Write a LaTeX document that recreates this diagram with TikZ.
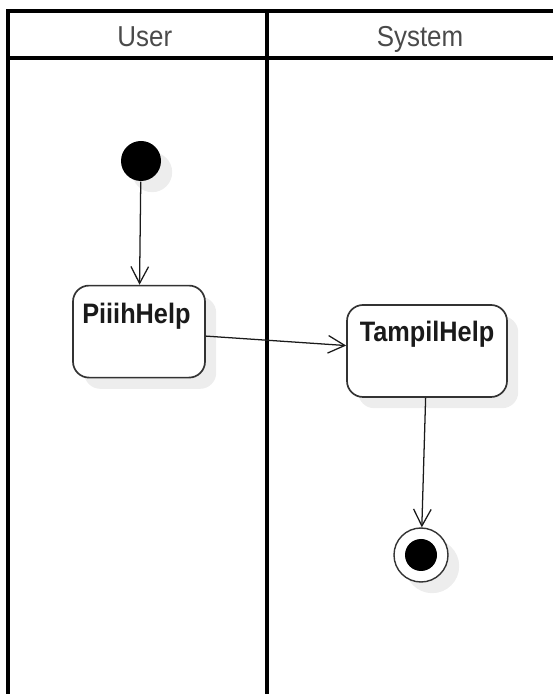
\documentclass[tikz,border=0pt]{standalone}
\usepackage{fontspec}
\setmainfont{Liberation Sans}
\newfontfamily\narrowsans{Liberation Sans}[FakeStretch=0.9]
\usetikzlibrary{arrows.meta,shadows}
\definecolor{ink}{HTML}{1A1A1A}
\definecolor{frame}{HTML}{333333}
\definecolor{lanetext}{HTML}{4A4A4A}
\definecolor{shade}{HTML}{EDEDED}

\begin{document}
\begin{tikzpicture}[
    line width=0.9pt, >={Straight Barb[length=4.2mm,width=4.4mm]},
    color=ink,
    lane/.style={draw=black, line width=2.5pt},
    lanehead/.style={font=\narrowsans\fontsize{20.5}{24}\selectfont, text=lanetext, anchor=base},
    soft shadow/.style={drop shadow={shadow xshift=0.28cm, shadow yshift=-0.28cm,
                        fill=shade, opacity=1}},
    action/.style={draw=frame, line width=1.2pt, fill=white, rounded corners=0.4cm,
                   soft shadow, minimum width=#1, minimum height=2.3cm},
    actlab/.style={font=\narrowsans\bfseries\fontsize{20}{24}\selectfont, text=ink},
    initial/.style={circle, fill=black, minimum size=1.0cm, inner sep=0pt, soft shadow},
    final/.style={circle, draw=frame, line width=1pt, fill=white, minimum size=1.35cm,
                  inner sep=0pt, soft shadow}]
  % fixed canvas
  \path[use as bounding box] (0,0) rectangle (13.825,17.35);

  % ================= swimlanes =================
  \draw[lane] (13.825,17.075) -- (0.2,17.075) -- (0.2,0);
  \draw[lane] (0.2,15.9) -- (13.825,15.9);
  \draw[lane] (6.675,17.075) -- (6.675,0);
  \node[lanehead] (user) at (3.62,16.175) {User};
  \node[lanehead] (system) at (10.5,16.175) {System};

  % ================= states =================
  \node[initial] (start) at (3.525,13.325) {};
  \node[action=3.3cm] (piih) at (3.475,9.06) {};
  \node[actlab] at (3.41,9.45) {PiiihHelp};
  \node[action=4.0cm] (tampil) at (10.675,8.575) {};
  \node[actlab] at (10.675,9.0) {TampilHelp};
  \node[final] (stop) at (10.525,3.475) {};
  \fill[black] (stop.center) circle (0.4);

  % ================= transitions =================
  \draw[->] (start) -- (piih);
  \draw[->] (piih) -- (tampil);
  \draw[->] (tampil) -- (stop);
\end{tikzpicture}
\end{document}
